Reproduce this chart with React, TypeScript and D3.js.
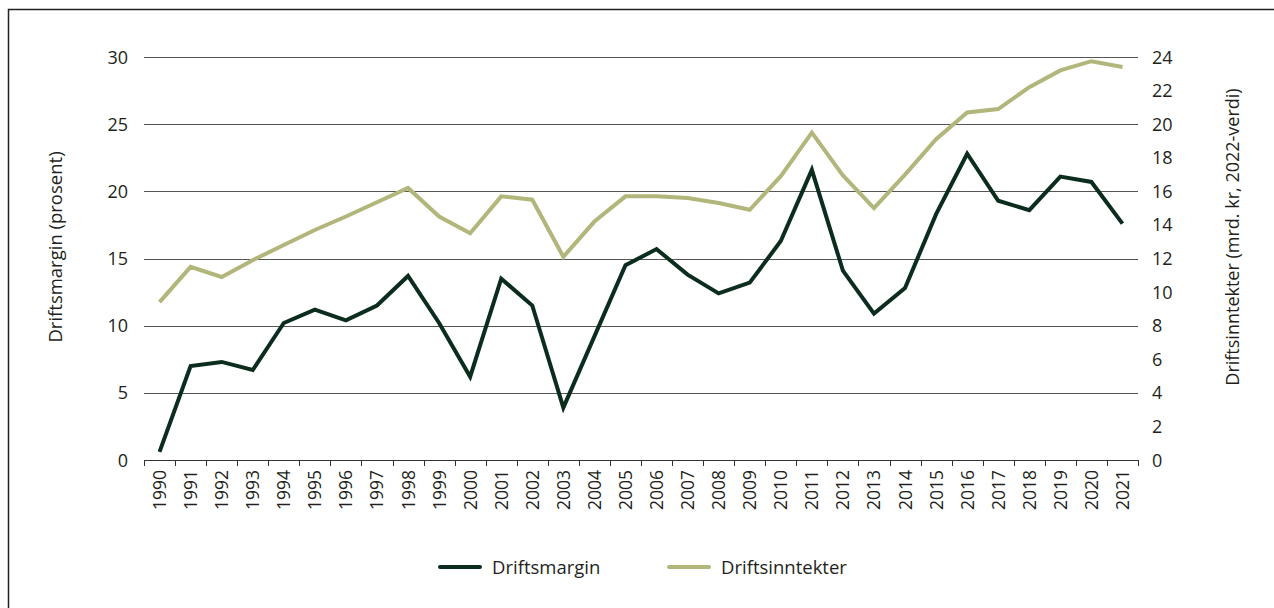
import React, { useEffect, useRef } from 'react';
import * as d3 from 'd3';

const years = d3.range(1990, 2022).map(String);

const driftsmargin = [
  0.6, 7.0, 7.3, 6.7, 10.2, 11.2, 10.4, 11.5, 13.7, 10.2, 6.2, 13.5, 11.5, 3.9,
  9.2, 14.5, 15.7, 13.8, 12.4, 13.2, 16.3, 21.6, 14.1, 10.9, 12.8, 18.3, 22.8,
  19.3, 18.6, 21.1, 20.7, 17.6,
];

const driftsinntekter = [
  9.4, 11.5, 10.9, 11.9, 12.8, 13.7, 14.5, 15.35, 16.2, 14.5, 13.5, 15.7, 15.5,
  12.1, 14.2, 15.7, 15.7, 15.6, 15.3, 14.9, 16.9, 19.5, 16.95, 15.0, 17.0, 19.1,
  20.7, 20.9, 22.2, 23.2, 23.75, 23.4,
];

const leftTicks = [0, 5, 10, 15, 20, 25, 30];
const rightTicks = [0, 2, 4, 6, 8, 10, 12, 14, 16, 18, 20, 22, 24];

const DARK = '#0c2d1e';
const GREEN = '#b2b67b';
const TEXT = '#231f20';
const FONT = '"Open Sans", "Noto Sans", sans-serif';

function App() {
  const svgRef = useRef<SVGSVGElement>(null);

  useEffect(() => {
    const width = 1274;
    const height = 608;
    const svg = d3.select(svgRef.current);
    svg.selectAll('*').remove();
    svg.attr('width', width).attr('height', height);

    // frame (right and bottom fall outside the picture)
    svg
      .append('path')
      .attr('d', `M8.5,${height + 5} V9.5 H${width + 5}`)
      .attr('fill', 'none')
      .attr('stroke', '#222')
      .attr('stroke-width', 1.5);

    const x = d3.scaleBand().domain(years).range([144, 1138]).padding(0);
    const yL = d3.scaleLinear().domain([0, 30]).range([460, 57]);
    const yR = d3.scaleLinear().domain([0, 24]).range([460, 57]);
    const cx = (i: number) => (x(years[i]) as number) + x.bandwidth() / 2;

    // gridlines
    svg
      .append('g')
      .selectAll('line')
      .data(leftTicks.filter(t => t > 0))
      .join('line')
      .attr('x1', 144)
      .attr('x2', 1138)
      .attr('y1', d => Math.round(yL(d)) + 0.5)
      .attr('y2', d => Math.round(yL(d)) + 0.5)
      .attr('stroke', '#555')
      .attr('stroke-width', 1);

    // x axis line + ticks
    svg
      .append('line')
      .attr('x1', 144)
      .attr('x2', 1138)
      .attr('y1', 460.5)
      .attr('y2', 460.5)
      .attr('stroke', '#333')
      .attr('stroke-width', 1.2);

    const bounds = years.map(y => x(y) as number).concat([1138]);
    svg
      .append('g')
      .selectAll('line')
      .data(bounds)
      .join('line')
      .attr('x1', d => Math.round(d) + 0.5)
      .attr('x2', d => Math.round(d) + 0.5)
      .attr('y1', 460)
      .attr('y2', 466)
      .attr('stroke', '#333')
      .attr('stroke-width', 1);

    // year labels
    svg
      .append('g')
      .selectAll('text')
      .data(years)
      .join('text')
      .attr('transform', (d, i) => `translate(${cx(i) + 6.5},470) rotate(-90)`)
      .attr('text-anchor', 'end')
      .attr('font-family', FONT)
      .attr('font-size', 17.5)
      .attr('fill', TEXT)
      .text(d => d);

    // left tick labels
    svg
      .append('g')
      .selectAll('text')
      .data(leftTicks)
      .join('text')
      .attr('x', 128)
      .attr('y', d => yL(d) + 6.5)
      .attr('text-anchor', 'end')
      .attr('font-family', FONT)
      .attr('font-size', 18)
      .attr('fill', TEXT)
      .text(d => d);

    // right tick labels
    svg
      .append('g')
      .selectAll('text')
      .data(rightTicks)
      .join('text')
      .attr('x', 1152)
      .attr('y', d => yR(d) + 6.5)
      .attr('text-anchor', 'start')
      .attr('font-family', FONT)
      .attr('font-size', 18)
      .attr('fill', TEXT)
      .text(d => d);

    // axis titles
    svg
      .append('text')
      .attr('transform', 'translate(62,247) rotate(-90)')
      .attr('text-anchor', 'middle')
      .attr('font-family', FONT)
      .attr('font-size', 18.5)
      .attr('fill', TEXT)
      .text('Driftsmargin (prosent)');

    svg
      .append('text')
      .attr('transform', 'translate(1239,237) rotate(-90)')
      .attr('text-anchor', 'middle')
      .attr('font-family', FONT)
      .attr('font-size', 18)
      .attr('fill', TEXT)
      .text('Driftsinntekter (mrd. kr, 2022-verdi)');

    // lines
    const lineL = d3
      .line<number>()
      .x((d, i) => cx(i))
      .y(d => yL(d));
    const lineR = d3
      .line<number>()
      .x((d, i) => cx(i))
      .y(d => yR(d));

    svg
      .append('path')
      .datum(driftsinntekter)
      .attr('d', lineR)
      .attr('fill', 'none')
      .attr('stroke', GREEN)
      .attr('stroke-width', 4)
      .attr('stroke-linejoin', 'miter');

    svg
      .append('path')
      .datum(driftsmargin)
      .attr('d', lineL)
      .attr('fill', 'none')
      .attr('stroke', DARK)
      .attr('stroke-width', 4)
      .attr('stroke-linejoin', 'miter');

    // legend
    const legend = [
      { name: 'Driftsmargin', color: DARK, x: 440 },
      { name: 'Driftsinntekter', color: GREEN, x: 669 },
    ];
    const lg = svg
      .append('g')
      .selectAll('g')
      .data(legend)
      .join('g')
      .attr('transform', d => `translate(${d.x},567)`);
    lg.append('line')
      .attr('x1', 0)
      .attr('x2', 40)
      .attr('stroke', d => d.color)
      .attr('stroke-width', 4)
      .attr('stroke-linecap', 'round');
    lg.append('text')
      .attr('x', 52)
      .attr('y', 6.5)
      .attr('font-family', FONT)
      .attr('font-size', 18.5)
      .attr('fill', TEXT)
      .text(d => d.name);
  }, []);

  return (
    <div style={{ width: 1274, height: 608 }}>
      <svg ref={svgRef} style={{ position: 'absolute', left: 0, top: 0 }}></svg>
    </div>
  );
}

export default App;
